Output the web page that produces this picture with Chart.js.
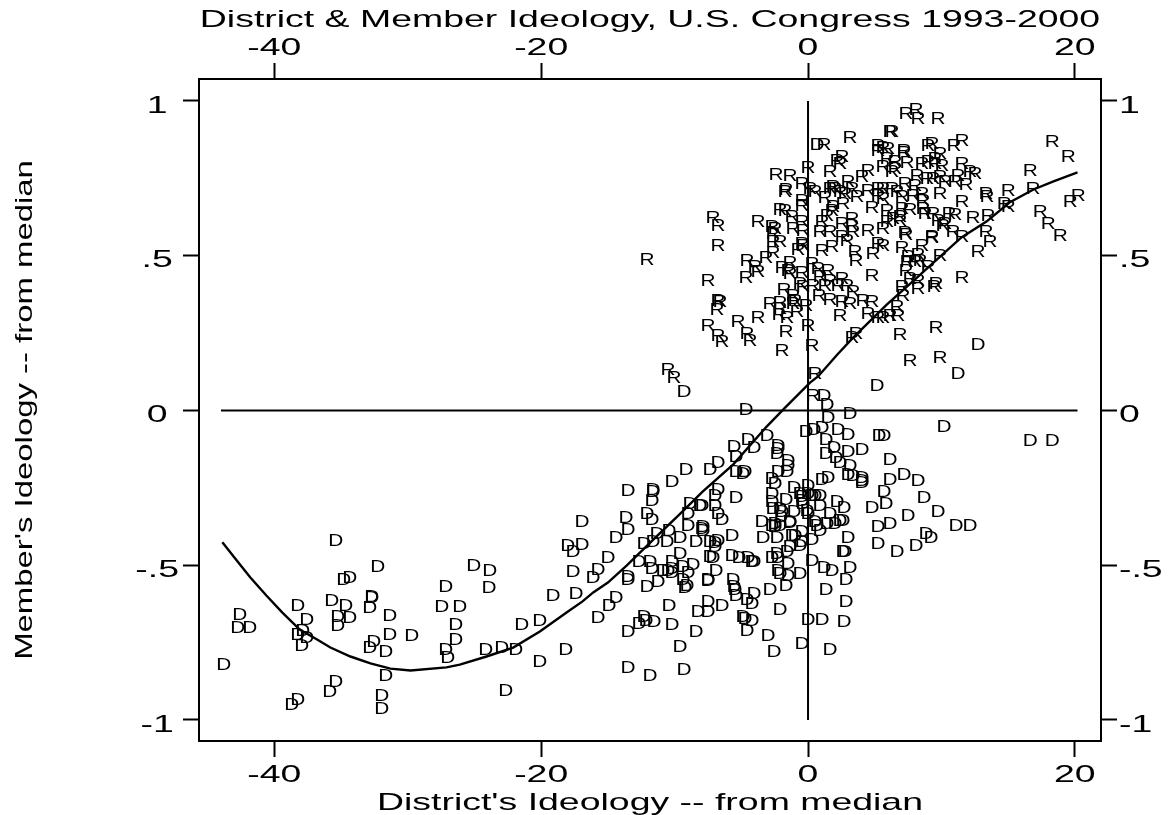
<!DOCTYPE html>
<html>
<head>
<meta charset="utf-8">
<title>District & Member Ideology</title>
<script src="https://cdn.jsdelivr.net/npm/chart.js@4"></script>
<style>
html, body { margin: 0; padding: 0; background: #fff; }
canvas { display: block; }
</style>
</head>
<body>
<canvas id="myChart" width="1173" height="815"></canvas>
<script>
"use strict";
const titleText = 'District & Member Ideology, U.S. Congress 1993-2000';
const xAxisTitle = "District's Ideology -- from median";
const yAxisTitle = "Member's Ideology -- from median";
const xTickValues = [-40, -20, 0, 20];
const yTickValues = [1, 0.5, 0, -0.5, -1];
const yTickLabels = ['1', '.5', '0', '-.5', '-1'];

// [district, member]
const repPoints = [
[1.2,.856],[3.15,.879],[0,.782],[-2.4,.759],[-1.35,.756],[-.45,.73],[-1.65,.711],[-1.72,.704],[.15,.714],[.52,.704],
[-.45,.675],[-.45,.659],[-2.1,.646],[-1.72,.643],[-1.2,.624],[-.45,.607],[-7.12,.62],[-6.75,.594],[-3.75,.607],[-2.7,.591],
[-2.47,.585],[-2.62,.569],[-1.12,.585],[-.37,.578],[2.55,.817],[2.17,.804],[2.4,.795],[1.65,.769],[4.5,.772],[4.05,.753],
[5.62,.785],[6.15,.898],[5.25,.853],[5.25,.837],[5.62,.846],[6,.843],[5.92,.811],[3,.736],[1.87,.72],[2.02,.714],
[1.65,.714],[2.4,.704],[2.77,.698],[3.3,.714],[4.5,.708],[3.67,.688],[1.27,.685],[2.62,.665],[1.87,.656],[4.8,.652],
[1.42,.627],[1.8,.643],[3.3,.617],[2.55,.6],[1.05,.607],[.9,.574],[1.65,.574],[3.3,.594],[3.37,.574],[4.5,.578],
[5.62,.585],[5.25,.714],[5.62,.714],[5.25,.691],[5.62,.681],[5.92,.643],[5.92,.607],
[7.35,.956],[8.1,.969],[8.25,.94],[9.75,.94],[6.3,.898],[9.3,.859],[9,.853],[11.55,.869],[10.95,.853],[18.3,.866],
[19.5,.817],[7.2,.837],[7.2,.83],[9.9,.827],[9.52,.811],[6.52,.801],[7.42,.798],[8.55,.795],[9,.801],[9.52,.795],
[10.05,.788],[11.55,.795],[12.15,.769],[12.52,.762],[11.25,.756],[6.52,.778],[16.65,.772],[8.17,.756],[8.92,.746],[9.37,.746],
[9.9,.753],[10.27,.736],[11.02,.736],[11.85,.727],[7.27,.73],[8.02,.723],[6.3,.769],[6.3,.714],[6.67,.704],[7.05,.688],
[7.87,.691],[8.55,.698],[9.9,.698],[8.62,.675],[13.35,.698],[13.42,.688],[15,.707],[16.87,.714],[20.25,.691],[19.65,.672],
[14.7,.665],[15,.656],[11.55,.672],[8.62,.649],[7.65,.646],[7.05,.649],[8.77,.633],[9.37,.633],[10.57,.633],[11.02,.63],
[9.75,.61],[10.27,.6],[12.37,.62],[13.5,.627],[17.4,.639],[18,.6],[18.9,.562],[6.9,.623],[6.37,.617],[6.9,.61],
[7.27,.572],[9.3,.559],[10.12,.594],[10.87,.575],[13.35,.575],[11.55,.559],
[-6.75,.53],[-4.57,.481],[-3.15,.491],[-3.97,.462],[-3.75,.446],[-4.65,.426],[-7.5,.417],[-2.62,.543],[-2.62,.507],[-2.1,.543],
[-.75,.517],[-.45,.536],[-.37,.53],[1.05,.513],[1.8,.526],[3.52,.51],[3.6,.481],[4.87,.503],[5.25,.536],[5.62,.53],
[2.55,.559],[2.92,.545],[.3,.471],[-1.35,.474],[-1.95,.458],[-1.5,.449],[-1.35,.439],[-.45,.443],[.75,.455],[1.5,.449],
[.9,.429],[1.65,.416],[2.55,.423],[4.8,.432],[2.92,.4],[2.25,.4],[1.27,.4],[-.6,.406],[-.37,.397],[.37,.4],
[3.37,.38],[-1.8,.387],[-1.12,.368],[.82,.368],[1.65,.355],[2.55,.349],[4.12,.352],[4.8,.349],[3.15,.342],[-.97,.352],
[-2.85,.342],[-2.1,.345],[-1.12,.342],[-.15,.336],[-6.75,.352],[-6.6,.349],[-6.82,.323],[-2.1,.326],[-2.17,.307],[-.82,.316],
[-1.57,.297],[-3.75,.297],[-5.25,.284],[-7.5,.271],[0,.271],[2.4,.303],[4.5,.31],[5.25,.297],[5.62,.297],[-1.65,.252],
[-4.57,.245],[-4.35,.223],[-6.75,.239],[-6.45,.22],[-1.95,.19],[.3,.207],[3.6,.245],[3.3,.232],[.52,.116],
[7.35,.565],[9.3,.555],[13.65,.543],[8.55,.53],[7.05,.523],[12.75,.51],[9.9,.497],[8.25,.501],[7.5,.494],[8.4,.481],
[7.42,.478],[8.02,.478],[9,.462],[7.35,.449],[11.55,.426],[7.65,.423],[8.25,.416],[8.25,.391],[9.6,.407],[9.45,.397],
[7.05,.397],[7.12,.368],[6.67,.333],[6.75,.304],[6.15,.304],[6.9,.242],[9.6,.265],[7.65,.158],[9.9,.168],
[-12.07,.484],[-10.5,.129],[-10.05,.103],[.37,.045]
];

const demPoints = [
[.67,.856],[12.75,.21],[11.25,.116],[-9.3,.058],[5.17,.077],[1.2,.045],[1.42,.016],[-4.65,0],[1.5,-.026],[3.15,-.013],
[-.15,-.071],[.45,-.065],[1.05,-.058],[2.25,-.065],[3,-.081],[5.32,-.084],[5.7,-.084],[1.35,-.097],[1.95,-.123],[1.35,-.142],
[3,-.136],[4.05,-.129],[2.1,-.155],[2.4,-.171],[3.15,-.181],[6.15,-.162],[3,-.21],[3.37,-.213],[4.05,-.22],[4.05,-.229],
[4.05,-.236],[6.15,-.226],[5.7,-.265],[5.85,-.304],[4.8,-.317],[1.5,-.22],[1.05,-.226],[2.17,-.297],[2.7,-.317],[.9,-.31],
[.52,-.278],[.9,-.278],[0,-.246],[-1.05,-.252],[-.6,-.271],[-.45,-.281],[-.45,-.294],[-.37,-.304],[0,-.271],[.3,-.278],
[-1.65,-.291],[-1.05,-.33],[-.07,-.326],[0,-.336],[1.65,-.336],[-4.5,-.097],[-3.07,-.084],[-5.55,-.12],[-4.05,-.123],[-2.25,-.116],
[-2.25,-.126],[-2.32,-.142],[-5.4,-.152],[-1.5,-.165],[-1.5,-.181],[-1.57,-.2],[-2.25,-.2],[-6.75,-.171],[-7.35,-.194],[-5.4,-.2],
[-4.87,-.207],[-4.72,-.2],[-2.7,-.223],[-2.47,-.239],[-6.75,-.258],[-6.97,-.278],[-5.4,-.284],[-2.7,-.271],[-2.7,-.297],[-6.97,-.31],
[-2.62,-.32],[-2.1,-.32],[-1.95,-.33],[-2.02,-.346],[-6.75,-.336],[-6.45,-.355],[-7.95,-.31],[-3.45,-.362],[-1.35,-.362],[-2.47,-.368],
[-2.7,-.375],[-7.87,-.378],[5.25,-.378],[6.15,-.368],[.52,-.362],[1.42,-.368],[.67,-.375],[2.4,-.359],[2.62,-.359],[2.02,-.368],
[-5.7,-.407],[-6.75,-.423],[-6.97,-.43],[-6.97,-.443],[-3.37,-.414],[-2.32,-.414],[-2.47,-.378],[-2.1,-.375],[-1.35,-.365],[-1.2,-.407],
[-.97,-.407],[-.45,-.394],[.3,-.42],[.9,-.391],[-.45,-.427],[-.6,-.439],[-1.35,-.443],[-1.57,-.459],[3,-.414],[5.25,-.433],
[6.67,-.459],[2.62,-.459],[2.77,-.459],[-7.12,-.478],[-5.7,-.472],[-5.17,-.478],[-4.5,-.478],[-4.2,-.491],[-4.05,-.491],[-2.7,-.478],
[-2.32,-.465],[-2.25,-.478],[-1.5,-.497],[.3,-.488],[1.2,-.51],[1.8,-.52],[3.15,-.51],[2.85,-.549],[-6.9,-.52],[-7.5,-.549],
[-5.62,-.549],[-2.25,-.52],[-2.1,-.53],[-1.5,-.536],[-.6,-.53],[-1.65,-.568],[-5.55,-.572],[-5.47,-.581],[-5.4,-.6],[-4.57,-.613],
[-4.05,-.594],[-4.2,-.626],[-2.85,-.581],[1.35,-.581],[2.85,-.62],[-7.5,-.62],[-7.5,-.652],[-6.45,-.633],[-2.1,-.646],[-4.87,-.668],
[-4.72,-.675],[-4.2,-.681],[-4.57,-.714],[0,-.678],[1.05,-.678],[2.7,-.684],[-3,-.73],[-.45,-.756],[-2.55,-.781],[1.65,-.775],
[-13.5,-.262],[-11.62,-.258],[-11.62,-.265],[-11.7,-.294],[-10.2,-.233],[-9.15,-.194],[-16.95,-.362],[-13.65,-.349],[-12.07,-.336],[-11.7,-.355],
[-13.5,-.388],[-14.4,-.414],[-11.32,-.401],[-10.42,-.391],[-11.62,-.427],[-12.3,-.433],[-10.57,-.427],[-9.6,-.414],[-8.4,-.427],[-9,-.375],
[-7.95,-.384],[-7.87,-.391],[-8.85,-.304],[-8.1,-.31],[-9,-.336],[-16.95,-.436],[-18,-.439],[-17.62,-.459],[-15,-.478],[-17.62,-.523],
[-15.75,-.517],[-16.12,-.543],[-13.5,-.539],[-13.5,-.549],[-12.67,-.491],[-11.85,-.491],[-11.7,-.514],[-10.87,-.52],[-10.5,-.52],[-10.2,-.491],
[-9.6,-.465],[-10.2,-.514],[-10.2,-.526],[-9.37,-.507],[-8.62,-.501],[-9,-.526],[-9.37,-.549],[-9.07,-.568],[-11.25,-.556],[-12.07,-.572],
[-7.5,-.552],[-7.35,-.427],[-7.35,-.475],
[-19.12,-.601],[-17.4,-.594],[-14.4,-.607],[-14.92,-.633],[-15.75,-.672],[-9.22,-.575],[-10.42,-.633],[-8.25,-.652],[-12.3,-.668],[-12.15,-.681],
[-12.67,-.691],[-11.55,-.684],[-10.2,-.694],[-13.5,-.717],[-8.4,-.717],[-9.6,-.766],[-18.15,-.775],[-13.5,-.833],[-11.85,-.859],[-9.3,-.84],
[-20.1,-.681],[-20.1,-.814],
[-35.4,-.423],[-32.25,-.507],[-34.35,-.543],[-34.8,-.549],[-42.6,-.662],[-42.75,-.704],[-41.85,-.704],[-43.8,-.824],[-38.25,-.633],[-37.57,-.678],
[-37.87,-.714],[-38.25,-.727],[-37.57,-.737],[-37.95,-.762],[-35.7,-.617],[-34.65,-.633],[-32.7,-.604],[-32.7,-.607],[-32.85,-.64],[-35.25,-.669],
[-34.35,-.672],[-35.25,-.698],[-31.35,-.665],[-31.35,-.727],[-29.7,-.73],[-32.55,-.749],[-32.85,-.769],[-31.65,-.781],[-31.65,-.859],[-35.4,-.878],
[-35.85,-.91],[-38.25,-.936],[-38.7,-.955],[-31.95,-.923],[-31.95,-.965],
[-25.05,-.504],[-23.85,-.52],[-27.15,-.571],[-23.92,-.575],[-27.45,-.636],[-26.1,-.636],[-26.4,-.694],[-26.4,-.742],[-27.15,-.775],[-27,-.801],
[-24.15,-.775],[-22.95,-.769],[-21.9,-.775],[-21.45,-.694],[-22.65,-.907],
[10.2,-.055],[16.65,-.1],[18.3,-.1],[7.2,-.21],[8.25,-.229],[8.7,-.284],[9.75,-.33],[7.5,-.342],[11.1,-.375],[12.15,-.375],
[8.85,-.401],[9.22,-.414],[8.1,-.439]
];

// smoothed member ideology
const fitX = [-43.9,-42.7,-41.8,-40.6,-39.4,-38.1,-36.8,-35.8,-34.3,-32.8,-31.3,-29.8,-27.1,-26.1,-24.1,-22.1,-20.1,-18.1,-16.9,-16.1,-15,-13.6,-11.6,-9.4,-7.9,-5.6,-3.1,-1.7,.15,.75,2.2,3.4,5.9,8,9.4,11.5,13.4,15.1,16.9,18.4,20.2];
const fitY = [-.426,-.491,-.54,-.598,-.653,-.708,-.74,-.766,-.795,-.817,-.834,-.84,-.83,-.821,-.795,-.766,-.714,-.653,-.617,-.588,-.556,-.501,-.417,-.326,-.262,-.174,-.052,.01,.09,.11,.181,.236,.342,.423,.478,.559,.611,.672,.714,.74,.769];

const zeroLineX = [-44, 20.2];
const zeroLineY = [-1, 1];

const xRange = [-45.65, 21.96];
const yRange = [-1.068, 1.071];

const canvas = document.getElementById('myChart');
const ctx = canvas.getContext('2d');

// the original font is much wider than any installed one, so stretch text sideways
const textStretch = 1.56;
const rotatedStretch = 1.37;
const isRotated = () => Math.abs(ctx.getTransform().b) > 0.5;
const rawFillText = ctx.fillText.bind(ctx);
const rawMeasureText = ctx.measureText.bind(ctx);
ctx.fillText = (text, x, y) => {
    ctx.save();
    ctx.translate(x, y);
    ctx.scale(isRotated() ? rotatedStretch : textStretch, 1);
    // Stata puts y tick labels a bit under their ticks
    rawFillText(text, 0, ctx.textBaseline === 'middle' ? 5 : 0);
    ctx.restore();
};
ctx.measureText = (text) => {
    const m = rawMeasureText(text);
    return { width: m.width * textStretch };
};

const axisFont = { family: '"Liberation Sans", Arial, sans-serif', size: 24 };

const letterMarks = {
    id: 'letterMarks',
    afterDatasetsDraw(chart) {
        chart.data.datasets.forEach((ds, i) => {
            if (!ds.letter) return;
            ctx.save();
            ctx.font = '16px "Liberation Sans", Arial, sans-serif';
            ctx.fillStyle = '#000';
            ctx.textAlign = 'center';
            ctx.textBaseline = 'middle';
            chart.getDatasetMeta(i).data.forEach((pt) => {
                ctx.save();
                ctx.translate(pt.x, pt.y);
                ctx.scale(1.3, 1);
                rawFillText(ds.letter, 0, 0);
                ctx.restore();
            });
            ctx.restore();
        });
    }
};

function axis(position, range, fit, extra) {
    return Object.assign({
        type: 'linear',
        position: position,
        min: range[0],
        max: range[1],
        border: { display: true, color: '#000', width: 2 },
        grid: { drawOnChartArea: false, color: '#000', tickColor: '#000', tickLength: 16, tickWidth: 2 },
        afterFit: fit
    }, extra);
}

function xTicks(scale) {
    scale.ticks = xTickValues.map((v) => ({ value: v }));
}
function yTicks(scale) {
    scale.ticks = yTickValues.map((v) => ({ value: v }));
}
const xLabel = (v) => String(v);
const yLabel = (v) => yTickLabels[yTickValues.indexOf(v)];

const myChart = new Chart(ctx, {
    type: 'scatter',
    data: {
        datasets: [
            { label: 'R', letter: 'R', data: repPoints.map((p) => ({ x: p[0], y: p[1] })), pointRadius: 0 },
            { label: 'D', letter: 'D', data: demPoints.map((p) => ({ x: p[0], y: p[1] })), pointRadius: 0 },
            { label: 'fit', data: fitX.map((x, i) => ({ x: x, y: fitY[i] })), showLine: true, pointRadius: 0, borderColor: '#000', borderWidth: 2.4 },
            { label: 'y=0', data: zeroLineX.map((x) => ({ x: x, y: 0 })), showLine: true, pointRadius: 0, borderColor: '#000', borderWidth: 2 },
            { label: 'x=0', data: zeroLineY.map((y) => ({ x: 0, y: y })), showLine: true, pointRadius: 0, borderColor: '#000', borderWidth: 2 }
        ]
    },
    options: {
        responsive: false,
        animation: false,
        devicePixelRatio: 1,
        layout: { padding: { top: 0, left: 0, right: 0, bottom: 2 } },
        plugins: { legend: { display: false }, tooltip: { enabled: false } },
        scales: {
            x: axis('bottom', xRange, (s) => { s.height = 72; }, {
                afterBuildTicks: xTicks,
                ticks: { font: axisFont, color: '#000', autoSkip: false, maxRotation: 0, padding: -1, callback: xLabel },
                title: { display: true, text: xAxisTitle, font: axisFont, color: '#000', padding: 0 }
            }),
            x2: axis('top', xRange, (s) => { s.height = 79; }, {
                afterBuildTicks: xTicks,
                ticks: { font: axisFont, color: '#000', autoSkip: false, maxRotation: 0, padding: 5, callback: xLabel },
                title: { display: true, text: titleText, font: axisFont, color: '#000', padding: 1 }
            }),
            y: axis('left', yRange, (s) => { s.width = 199; }, {
                afterBuildTicks: yTicks,
                ticks: { font: axisFont, color: '#000', autoSkip: false, crossAlign: 'center', padding: 4, callback: yLabel },
                title: { display: true, text: yAxisTitle, font: axisFont, color: '#000', padding: 6 }
            }),
            y2: axis('right', yRange, (s) => { s.width = 72; }, {
                afterBuildTicks: yTicks,
                ticks: { font: axisFont, color: '#000', autoSkip: false, padding: 2, callback: yLabel }
            })
        }
    },
    plugins: [letterMarks]
});
</script>
</body>
</html>
